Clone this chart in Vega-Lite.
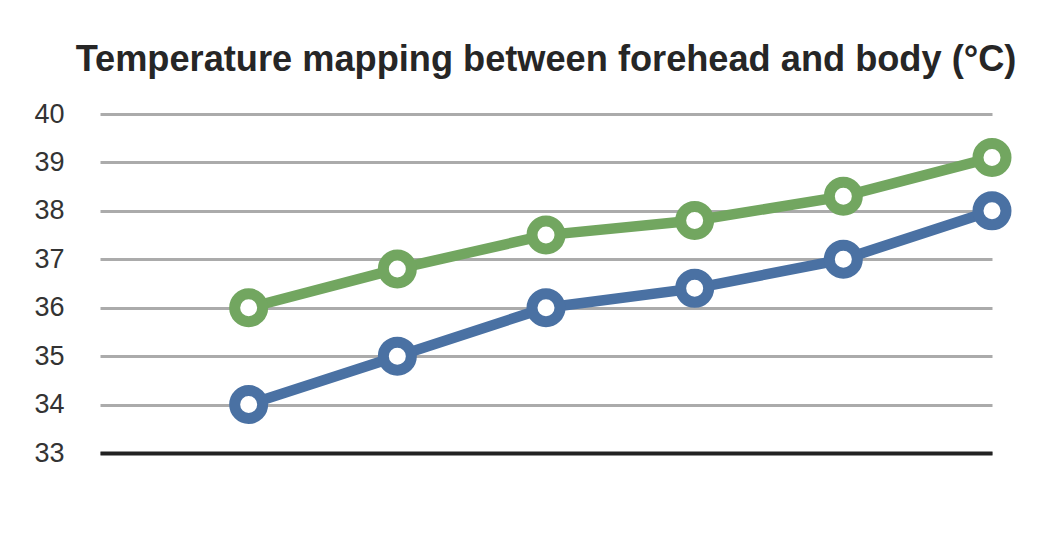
{
  "$schema": "https://vega.github.io/schema/vega-lite/v6.json",
  "width": 892,
  "height": 339,
  "autosize": {"type": "none"},
  "padding": {"left": 100, "top": 114, "right": 48, "bottom": 91},
  "background": "white",
  "title": {
    "text": "Temperature mapping between forehead and body (°C)",
    "font": "Liberation Sans",
    "fontSize": 36.2,
    "fontWeight": "bold",
    "color": "#262626",
    "anchor": "middle",
    "offset": -7,
    "baseline": "alphabetic"
  },
  "data": {
    "values": [
      {"i": 1, "temp": 34, "series": "Forehead"},
      {"i": 2, "temp": 35, "series": "Forehead"},
      {"i": 3, "temp": 36, "series": "Forehead"},
      {"i": 4, "temp": 36.4, "series": "Forehead"},
      {"i": 5, "temp": 37, "series": "Forehead"},
      {"i": 6, "temp": 38, "series": "Forehead"},
      {"i": 1, "temp": 36, "series": "Body"},
      {"i": 2, "temp": 36.8, "series": "Body"},
      {"i": 3, "temp": 37.5, "series": "Body"},
      {"i": 4, "temp": 37.8, "series": "Body"},
      {"i": 5, "temp": 38.3, "series": "Body"},
      {"i": 6, "temp": 39.1, "series": "Body"}
    ]
  },
  "encoding": {
    "x": {
      "field": "i",
      "type": "quantitative",
      "scale": {"domain": [0, 6], "nice": false, "zero": false},
      "axis": {
        "title": null,
        "labels": false,
        "ticks": false,
        "grid": false,
        "domain": true,
        "domainColor": "#222222",
        "domainWidth": 4
      }
    },
    "y": {
      "field": "temp",
      "type": "quantitative",
      "scale": {"domain": [33, 40], "nice": false, "zero": false},
      "axis": {
        "title": null,
        "values": [33, 34, 35, 36, 37, 38, 39, 40],
        "ticks": false,
        "domain": false,
        "grid": true,
        "gridColor": "#ababab",
        "gridWidth": 3,
        "labelFont": "Liberation Sans",
        "labelFontSize": 27,
        "labelColor": "#333333",
        "labelPadding": 36
      }
    },
    "color": {
      "field": "series",
      "type": "nominal",
      "scale": {"domain": ["Forehead", "Body"], "range": ["#4a71a3", "#72a660"]},
      "legend": null
    }
  },
  "layer": [
    {"mark": {"type": "line", "strokeWidth": 10.5}},
    {"mark": {"type": "point", "filled": false, "fill": "white", "fillOpacity": 1, "opacity": 1, "strokeWidth": 11, "size": 784}}
  ],
  "config": {"view": {"stroke": null}}
}
